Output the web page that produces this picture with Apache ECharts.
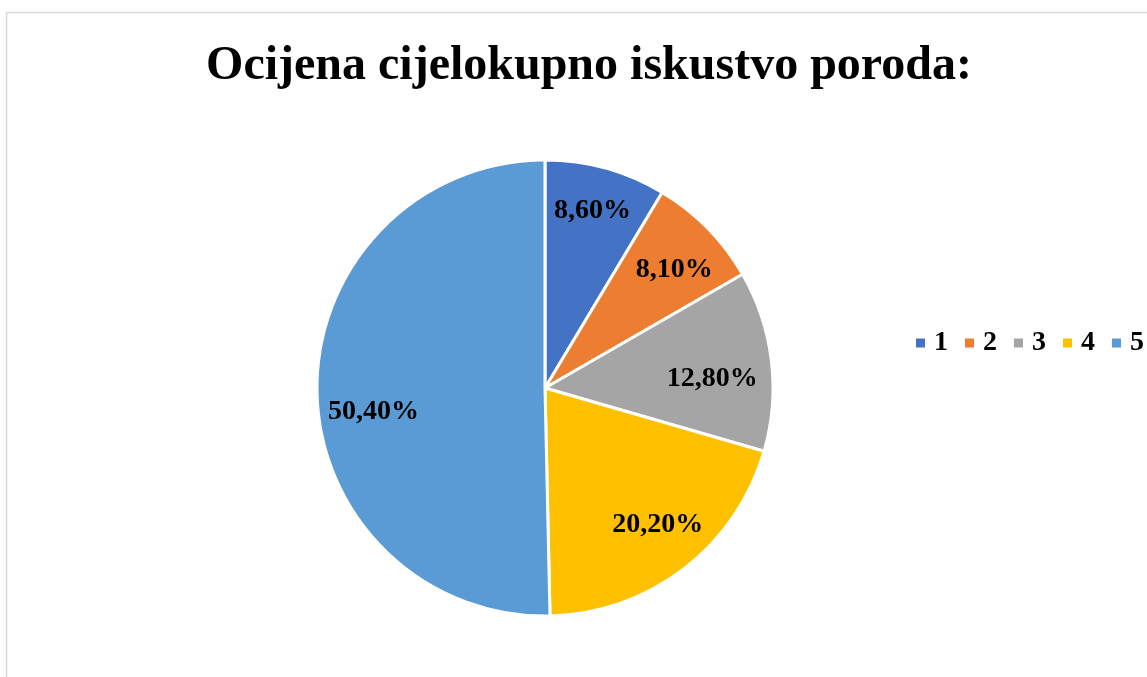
<!DOCTYPE html>
<html>
<head>
<meta charset="utf-8">
<script src="https://cdn.jsdelivr.net/npm/echarts@6/dist/echarts.min.js"></script>
<style>
  html, body { margin: 0; padding: 0; background: #fff; }
  #main { width: 1147px; height: 677px; }
</style>
</head>
<body>
<div id="main"></div>
<script>
  // ocjene 1-5 i postoci
  var categories = ['1', '2', '3', '4', '5'];
  var values = [8.6, 8.1, 12.8, 20.2, 50.4];
  var colors = ['#4472C4', '#ED7D31', '#A5A5A5', '#FFC000', '#5B9BD5'];
  // mali pomaci oznaka (Excel "best fit")
  var labelNudge = [[0, -5], [2, 7], [-10, 12], [4, -5], [7, 22]];

  var serif = '"Liberation Serif", "Times New Roman", serif';

  var pieData = categories.map(function (c, i) {
    return { name: c, value: values[i], itemStyle: { color: colors[i] } };
  });

  var chart = echarts.init(document.getElementById('main'));
  chart.setOption({
    animation: false,
    title: {
      text: 'Ocijena cijelokupno iskustvo poroda:',
      left: 584,
      textAlign: 'center',
      top: 38,
      textStyle: { fontFamily: serif, fontWeight: 'bold', fontSize: 48, color: '#000' }
    },
    legend: {
      data: categories,
      left: 909,
      top: 324,
      width: 400,
      orient: 'horizontal',
      icon: 'rect',
      itemWidth: 11,
      itemHeight: 11,
      itemGap: 15,
      textStyle: { fontFamily: serif, fontWeight: 'bold', fontSize: 28, color: '#000', padding: [0, 0, 0, 3] }
    },
    graphic: [{
      type: 'rect',
      shape: { x: 6.5, y: 12.5, width: 1300, height: 800 },
      style: { fill: 'none', stroke: '#d9d9d9', lineWidth: 1.5 },
      silent: true
    }],
    series: [{
      type: 'pie',
      center: [545, 388],
      radius: [0, 228],
      startAngle: 90,
      clockwise: true,
      data: pieData,
      label: { show: false },
      labelLine: { show: false },
      itemStyle: { borderColor: '#fff', borderWidth: 3 },
      emphasis: { disabled: true }
    }, {
      // isti podaci, samo za postavljanje oznaka dalje od sredine
      type: 'pie',
      center: [545, 388],
      radius: [123, 228],
      startAngle: 90,
      clockwise: true,
      silent: true,
      data: pieData.map(function (d) {
        return { name: d.name, value: d.value, itemStyle: { color: 'rgba(0,0,0,0)' } };
      }),
      itemStyle: { borderWidth: 0 },
      label: {
        show: true,
        position: 'inside',
        formatter: function (p) { return p.value.toFixed(2).replace('.', ',') + '%'; },
        fontFamily: serif,
        fontWeight: 'bold',
        fontSize: 28,
        color: '#000'
      },
      labelLayout: function (p) {
        var n = labelNudge[p.dataIndex];
        return { dx: n[0], dy: n[1] };
      },
      labelLine: { show: false },
      emphasis: { disabled: true }
    }]
  });
</script>
</body>
</html>
